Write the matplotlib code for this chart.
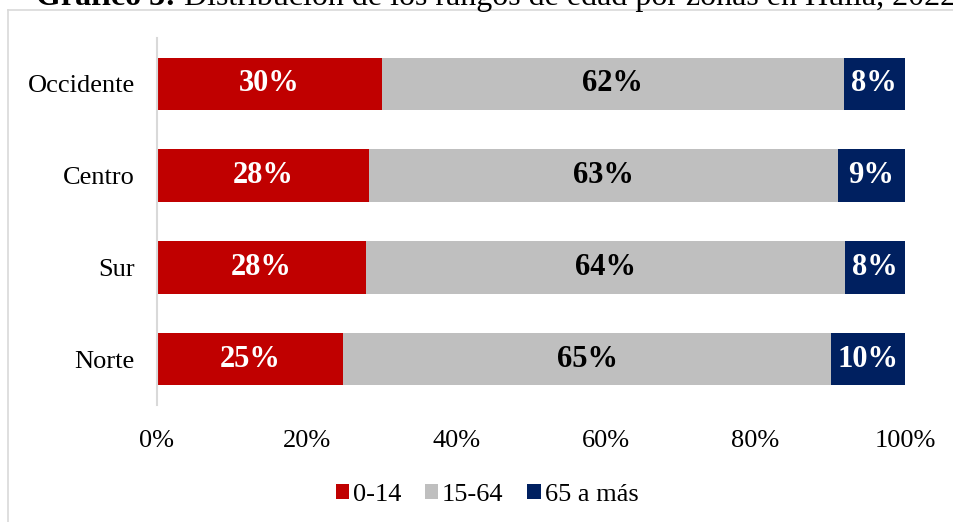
import matplotlib.pyplot as plt
from matplotlib.lines import Line2D

zonas = ['Norte', 'Sur', 'Centro', 'Occidente']
edad_0_14 = [24.9, 27.9, 28.3, 30.1]
edad_15_64 = [65.2, 64.1, 62.7, 61.7]
edad_65 = [9.9, 8.0, 9.0, 8.2]
etiquetas_0_14 = ['25%', '28%', '28%', '30%']
etiquetas_15_64 = ['65%', '64%', '63%', '62%']
etiquetas_65 = ['10%', '8%', '9%', '8%']
series = ['0-14', '15-64', '65 a más']
colores = ['#C00000', '#BFBFBF', '#002060']

plt.rcParams['font.family'] = ['Liberation Serif', 'DejaVu Serif']

fig = plt.figure(figsize=(9.54, 5.22), dpi=100)
ax = fig.add_axes([157/954, 1 - 405/522, 748/954, 367/522])

y = list(range(len(zonas)))
alto = 0.57
izq = [0] * len(zonas)
datos = [edad_0_14, edad_15_64, edad_65]
etiquetas = [etiquetas_0_14, etiquetas_15_64, etiquetas_65]
color_texto = ['white', 'black', 'white']
for vals, labs, col, nombre, ct in zip(datos, etiquetas, colores, series, color_texto):
    ax.barh(y, vals, left=izq, height=alto, color=col, label=nombre)
    for i in range(len(zonas)):
        ax.text(izq[i] + vals[i] / 2, y[i], labs[i], ha='center', va='center',
                fontsize=22, fontweight='bold', color=ct)
    izq = [a + b for a, b in zip(izq, vals)]

ax.set_xlim(0, 100)
ax.set_ylim(-0.5, 3.5)
ax.set_yticks(y)
ax.set_yticklabels(zonas, fontsize=19)
ax.set_xticks([0, 20, 40, 60, 80, 100])
ax.set_xticklabels(['0%', '20%', '40%', '60%', '80%', '100%'], fontsize=19)
ax.tick_params(axis='both', length=0)
ax.tick_params(axis='x', pad=18)
ax.tick_params(axis='y', pad=16)
for s in ['top', 'right', 'bottom']:
    ax.spines[s].set_visible(False)
ax.spines['left'].set_color('#d9d9d9')
ax.spines['left'].set_linewidth(1.5)

ax.legend(loc='center', bbox_to_anchor=(487/954, 1 - 495/522), bbox_transform=fig.transFigure,
          ncol=3, frameon=False, fontsize=19, handlelength=0.5, handleheight=0.5,
          handletextpad=0.15, columnspacing=0.9, borderpad=0, borderaxespad=0)

# borde del recuadro del gráfico
fig.add_artist(Line2D([8/954, 8/954], [0, 1 - 10/522], color='#d9d9d9', lw=1.2))
fig.add_artist(Line2D([8/954, 1], [1 - 10/522, 1 - 10/522], color='#d9d9d9', lw=1.2))

# título (recortado arriba, como en el original)
fig.canvas.draw()
r = fig.canvas.get_renderer()
t1 = fig.text(36/954, 1 - 5/522, 'Gráfico 3:', fontsize=23, fontweight='bold', va='baseline')
bb = t1.get_window_extent(r)
fig.text(bb.x1 / fig.bbox.width, 1 - 5/522, ' Distribución de los rangos de edad por zonas en Huila, 2022',
         fontsize=23, va='baseline')

fig.savefig('out.png', dpi=100)
